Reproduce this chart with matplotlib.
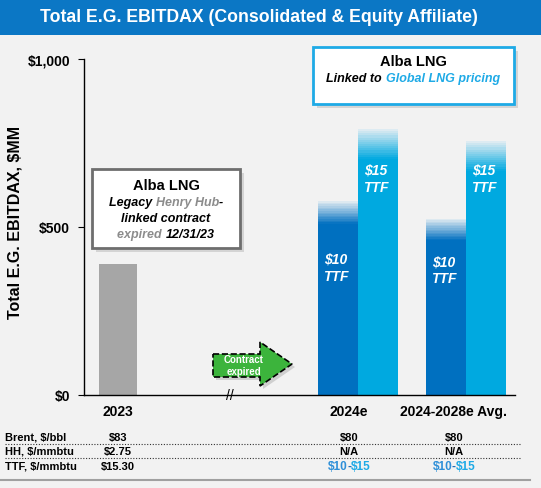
import numpy as np
import matplotlib.pyplot as plt
from matplotlib.patches import Rectangle, Polygon
from matplotlib.lines import Line2D
from matplotlib.offsetbox import TextArea, HPacker, VPacker, AnnotationBbox

plt.rcParams['font.family'] = ['Liberation Sans', 'DejaVu Sans']

# data
categories = ['2023', '2024e', '2024-2028e Avg.']
actual_2023 = 390
ttf10_solid = [509, 461]      # $10 TTF case, solid part
ttf10_top = [577, 524]        # faded top of range
ttf15_solid = [702, 667]      # $15 TTF case, solid part
ttf15_top = [792, 756]
table_rows = ['Brent, $/bbl', 'HH, $/mmbtu', 'TTF, $/mmbtu']
table_vals = [['$83', '$2.75', '$15.30'],
              ['$80', 'N/A', None],
              ['$80', 'N/A', None]]

W, H = 541, 489
BG = '#F2F2F2'
DARK = '#0070C0'
LIGHT = '#00A9E0'
GREY = '#A6A6A6'

fig = plt.figure(figsize=(W / 100, H / 100), dpi=100, facecolor=BG)


def fx(x):
    return x / W


def fy(y):
    return 1 - y / H


# title band
fig.patches.append(Rectangle((0, fy(36)), 1, 36 / H, transform=fig.transFigure,
                             facecolor='#0B77C5', edgecolor='none', zorder=0))
fig.text(fx(259), fy(18), 'Total E.G. EBITDAX (Consolidated & Equity Affiliate)',
         color='white', fontsize=12.7, fontweight='bold', ha='center', va='center')

# main axes
ax = fig.add_axes([fx(84), fy(396), fx(515) - fx(84), fy(60) - fy(396)])
ax.set_facecolor(BG)
ax.set_ylim(0, 1000)
ax.set_xlim(-0.315, 3.676)
for s in ['top', 'right']:
    ax.spines[s].set_visible(False)
ax.spines['left'].set_linewidth(1)
ax.spines['bottom'].set_linewidth(1)
ax.set_yticks([0, 500, 1000])
ax.set_yticklabels(['$0', '$500', '$1,000'], fontsize=10, fontweight='bold')
ax.tick_params(axis='y', length=4, width=0.8, pad=6)
ax.set_xticks([])
fig.text(fx(15), fy(222), 'Total E.G. EBITDAX, $MM', fontsize=11.5, fontweight='bold',
         rotation=90, ha='center', va='center')

group_x = [0, 2.22, 3.22]
bw = 0.37

ax.bar(group_x[0], actual_2023, width=0.35, color=GREY)

fade_col = np.array([0.90, 0.93, 0.95])


def faded_bar(x, solid, top, col):
    ax.bar(x, solid, width=bw, color=col)
    base = np.array(plt.matplotlib.colors.to_rgb(col))
    n = 14
    edges = np.linspace(solid, top, n + 1)
    for i in range(n):
        f = (i + 0.5) / n
        c = base * (1 - f) + fade_col * f
        ax.bar(x, edges[i + 1] - edges[i], bottom=edges[i], width=bw, color=c)


for k in range(2):
    xd = group_x[k + 1] - bw / 2
    xl = group_x[k + 1] + bw / 2
    faded_bar(xd, ttf10_solid[k], ttf10_top[k], DARK)
    faded_bar(xl, ttf15_solid[k], ttf15_top[k], LIGHT)
    ax.text(xd - 0.02, [380, 372][k], '$10\nTTF', color='white', fontsize=10,
            fontweight='bold', style='italic', ha='center', va='center', linespacing=1.25)
    ax.text(xl - 0.02, 645, '$15\nTTF', color='white', fontsize=10,
            fontweight='bold', style='italic', ha='center', va='center', linespacing=1.25)

# axis break marks
ax.text(1.04, 0, '//', fontsize=10, ha='center', va='center', clip_on=False)

# category labels
label_px = [118, 349, 454]
for lab, xp in zip(categories, label_px):
    fig.text(fx(xp), fy(412), lab, fontsize=10, fontweight='bold', ha='center', va='center')

# table
row_y = [438, 452, 467]
col_px = [118, 349, 454]
for r, (name, yy) in enumerate(zip(table_rows, row_y)):
    fig.text(fx(5), fy(yy), name, fontsize=8, fontweight='bold', ha='left', va='center')
    for c in range(3):
        v = table_vals[c][r]
        if v is not None:
            fig.text(fx(col_px[c]), fy(yy), v, fontsize=8, fontweight='bold',
                     ha='center', va='center')
        else:
            kw = dict(fontsize=8.5, fontweight='bold', va='center')
            fig.text(fx(col_px[c]), fy(yy), '-', color='#1F6FB8', ha='center', **kw)
            fig.text(fx(col_px[c] - 1.8), fy(yy), '$10', color='#2E8FD8', ha='right', **kw)
            fig.text(fx(col_px[c] + 1.8), fy(yy), '$15', color='#1EAAE6', ha='left', **kw)
for yy in [445, 459]:
    fig.add_artist(Line2D([fx(5), fx(521)], [fy(yy), fy(yy)], color='#333333',
                          linestyle=(0, (1, 1.5)), linewidth=0.8))
fig.add_artist(Line2D([0, fx(530)], [fy(481), fy(481)], color='#A0A0A0', linewidth=1.5))

# green arrow
arrow = [(213, 355), (260, 355), (260, 343), (292, 365), (260, 387), (260, 378), (213, 378)]
shadow = Polygon([(fx(x + 3), fy(y + 3)) for x, y in arrow], closed=True, transform=fig.transFigure,
                 facecolor='#B8B8B8', edgecolor='none', alpha=0.6)
fig.add_artist(shadow)
fig.add_artist(Polygon([(fx(x), fy(y)) for x, y in arrow], closed=True, transform=fig.transFigure,
                       facecolor='#3CB43C', edgecolor='black', linestyle='--', linewidth=1.2))
fig.text(fx(244), fy(366), 'Contract\nexpired', color='white', fontsize=7, fontweight='bold',
         ha='center', va='center', linespacing=1.2)


# callout boxes
def box(x0, y0, x1, y1, edge, lw):
    fig.add_artist(Rectangle((fx(x0 + 4), fy(y1 + 4)), fx(x1 - x0), (y1 - y0) / H,
                             transform=fig.transFigure, facecolor='#C8C8C8', edgecolor='none',
                             alpha=0.7))
    fig.add_artist(Rectangle((fx(x0), fy(y1)), fx(x1 - x0), (y1 - y0) / H,
                             transform=fig.transFigure, facecolor='white', edgecolor=edge,
                             linewidth=lw))


def line(pieces, size=9):
    kids = [TextArea(t, textprops=dict(color=c, fontsize=size, fontweight='bold', style='italic'))
            for t, c in pieces]
    return HPacker(children=kids, pad=0, sep=0)


box(92, 170, 240, 249, '#6E6E6E', 2)
title1 = TextArea('Alba LNG', textprops=dict(fontsize=10.5, fontweight='bold', color='black'))
vb1 = VPacker(children=[title1,
                        line([('Legacy ', 'black'), ('Henry Hub', '#8C8C8C'), ('-', 'black')]),
                        line([('linked contract', 'black')]),
                        line([('expired ', '#8C8C8C'), ('12/31/23', 'black')])],
              align='center', pad=0, sep=3)
fig.add_artist(AnnotationBbox(vb1, (fx(166), fy(210)), xycoords='figure fraction',
                              frameon=False, pad=0))

box(313, 48, 514, 105, '#1EAAE6', 2)
title2 = TextArea('Alba LNG', textprops=dict(fontsize=10.5, fontweight='bold', color='black'))
vb2 = VPacker(children=[title2,
                        line([('Linked to ', 'black'), ('Global LNG pricing', '#1EAAE6')])],
              align='center', pad=0, sep=3)
fig.add_artist(AnnotationBbox(vb2, (fx(413), fy(70)), xycoords='figure fraction',
                              frameon=False, pad=0))

fig.savefig('out.png', dpi=100, facecolor=BG)
